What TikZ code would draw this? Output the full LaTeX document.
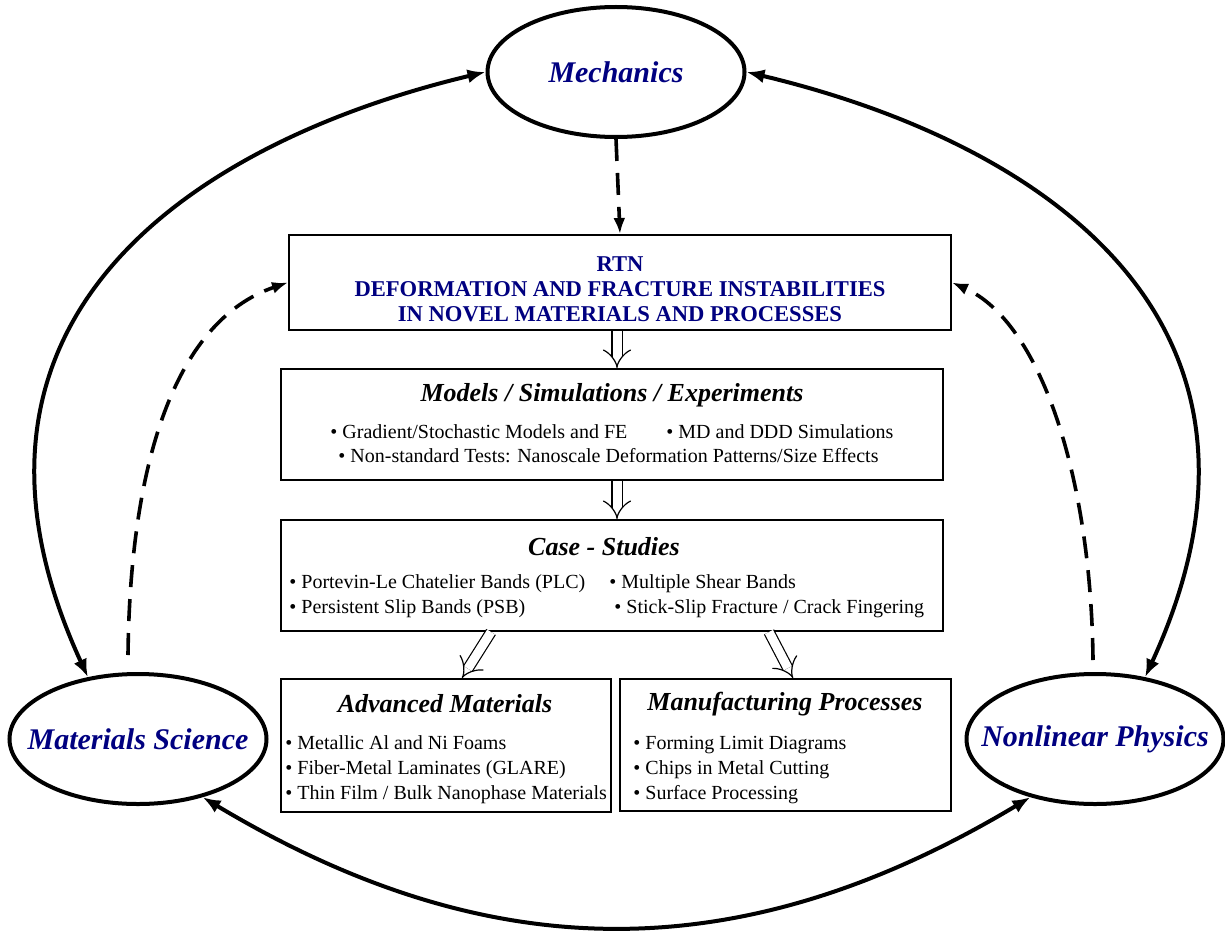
\documentclass[tikz,border=0pt]{standalone}
\usepackage{fontspec}
\setmainfont{Liberation Serif}
\usetikzlibrary{shapes.geometric, arrows.meta}
\definecolor{navytext}{RGB}{0,0,128}

\begin{document}
\begin{tikzpicture}[x=0.5pt, y=-0.5pt,
    topic/.style={draw, ellipse, line width=2pt, inner sep=0pt, minimum width=128.5pt, minimum height=65pt,
      text=navytext, font=\fontsize{15}{18}\selectfont\bfseries\itshape},
    panel/.style={draw, line width=1pt, inner sep=0pt},
    boxtitle/.style={inner sep=0pt, font=\fontsize{13}{15}\selectfont\bfseries\itshape},
    item/.style={anchor=west, inner sep=0pt, text height=1.6ex, text depth=.4ex, font=\fontsize{10}{12}\selectfont},
    linkarrow/.style={line width=2pt, {Latex[length=9pt,width=7pt]}-{Latex[length=9pt,width=7pt]}},
    feedarrow/.style={line width=1.8pt, dash pattern=on 11pt off 6pt, -{Latex[length=8pt,width=6pt]}},
    flowarrow/.style={double, double distance=4.5pt, line width=0.6pt, -{Implies[length=6pt, width=13pt]}}]
    \useasboundingbox (0,0) rectangle (1225,931);

    % the three fields
    \node[topic] (mech) at (616,72) {\makebox[0pt]{Mechanics}};
    \node[topic] (ms) at (138,739) {\makebox[0pt]{Materials Science}};
    \node[topic] (np) at (1095,739) {\makebox[0pt]{Nonlinear Physics}};

    % network box
    \node[panel, minimum width=331pt, minimum height=47.5pt] (rtn) at (620,282.5) {};
    \node[align=center, inner sep=0pt, text=navytext, font=\fontsize{11.3}{12.5}\selectfont\bfseries] (rtntext) at (620,289)
      {RTN\\DEFORMATION AND FRACTURE INSTABILITIES\\IN NOVEL MATERIALS AND PROCESSES};

    % models box
    \node[panel, minimum width=331pt, minimum height=55.5pt] (models) at (612,424.5) {};
    \node[boxtitle] (modelstitle) at (612,395) {Models / Simulations / Experiments};
    \node[item] (m1) at (330,433) {\textbullet\ Gradient/Stochastic Models and FE};
    \node[item] (m2) at (666,433) {\textbullet\ MD and DDD Simulations};
    \node[item] (m3) at (338,457) {\textbullet\ Non-standard Tests: Nanoscale Deformation Patterns/Size Effects};

    % case studies box
    \node[panel, minimum width=331pt, minimum height=55.5pt] (cases) at (612,575.5) {};
    \node[boxtitle] (casestitle) at (604,547) {Case - Studies};
    \node[item] (c1) at (289,583) {\textbullet\ Portevin-Le Chatelier Bands (PLC)};
    \node[item] (c2) at (609,583) {\textbullet\ Multiple Shear Bands};
    \node[item] (c3) at (289,608) {\textbullet\ Persistent Slip Bands (PSB)};
    \node[item] (c4) at (614,608) {\textbullet\ Stick-Slip Fracture / Crack Fingering};

    % advanced materials box
    \node[panel, minimum width=165pt, minimum height=66.5pt] (advmat) at (446,745.5) {};
    \node[boxtitle] (advtitle) at (445,704) {Advanced Materials};
    \node[item] (a1) at (285,744) {\textbullet\ Metallic Al and Ni Foams};
    \node[item] (a2) at (285,769) {\textbullet\ Fiber-Metal Laminates (GLARE)};
    \node[item] (a3) at (285,794) {\textbullet\ Thin Film / Bulk Nanophase Materials};

    % manufacturing box
    \node[panel, minimum width=165.5pt, minimum height=66pt] (manuf) at (785.5,745) {};
    \node[boxtitle] (manuftitle) at (785,704) {Manufacturing Processes};
    \node[item] (p1) at (633,744) {\textbullet\ Forming Limit Diagrams};
    \node[item] (p2) at (633,769) {\textbullet\ Chips in Metal Cutting};
    \node[item] (p3) at (633,794) {\textbullet\ Surface Processing};

    % links between the fields
    \draw[linkarrow] (mech.west) .. controls (197,141) and (-78,317) .. (ms.129);
    \draw[linkarrow] (mech.east) .. controls (1036,141) and (1311,317) .. (np.51);
    \draw[linkarrow] (ms.-42) .. controls (491,970) and (742,970) .. (np.-138);

    % feeds into the network
    \draw[feedarrow] (mech.south) -- (rtn.north);
    \draw[feedarrow] ([xshift=-5pt, yshift=8.5pt]ms.north) .. controls (130,470) and (172,322) .. (rtn.west);
    \draw[feedarrow] ([xshift=-1pt, yshift=6pt]np.north) .. controls (1091,475) and (1040,322) .. (rtn.east);

    % flow down the boxes
    \draw[flowarrow] ([xshift=-1.5pt]rtn.south) -- ([xshift=-1.5pt]rtn.south |- models.north);
    \draw[flowarrow] ([xshift=2.5pt]models.south) -- ([xshift=2.5pt]cases.north);
    \draw[flowarrow] ([xshift=105.5pt]cases.south west) -- ([xshift=91pt]advmat.north west);
    \draw[flowarrow] ([xshift=-87.5pt]cases.south east) -- ([xshift=87pt]manuf.north west);
\end{tikzpicture}
\end{document}
